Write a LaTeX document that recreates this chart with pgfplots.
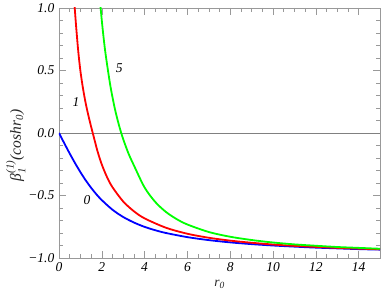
\documentclass[border=0pt]{standalone}
\usepackage{fontspec}
\setmainfont{Liberation Serif}
\usepackage{amsmath}
\usepackage{pgfplots}
\pgfplotsset{compat=1.18}
\begin{document}
\fontsize{13.5}{16}\selectfont
\begin{tikzpicture}
\path[use as bounding box] (-59pt,-42pt) rectangle (323pt,258pt);
\begin{axis}[
  scale only axis, width=321pt, height=250pt,
  at={(0,0)}, anchor=south west,
  xmin=0, xmax=15, ymin=-1, ymax=1,
  xtick={0,2,...,14}, ytick={-1,-0.5,0,0.5,1},
  xticklabels={\textit{0},\textit{2},\textit{4},\textit{6},\textit{8},\textit{10},\textit{12},\textit{14}},
  yticklabels={\textit{−1.0},\textit{−0.5},\textit{0.0},\textit{0.5},\textit{1.0}},
  minor x tick num=3, minor y tick num=4,
  tick align=inside, major tick length=7pt, minor tick length=4pt,
  axis line style={gray!80}, every tick/.style={gray!80, line width=0.5pt},
  xlabel={\itshape r$_{\text{\itshape 0}}$},
  ylabel={\fontsize{15.5}{17}\selectfont\itshape β$^{\text{\itshape (1)}}_{\text{\itshape 1}}$(coshr$_{\text{\itshape 0}}$)},
  label style={gray!30!black},
  xlabel style={yshift=1pt},
  ylabel style={at={(axis description cs:-0.135,0.45)}, anchor=center},
  clip=true,
]
\addplot[gray, line width=0.6pt, forget plot] coordinates {(0,0) (15,0)};
\addplot[blue, line width=1.8pt, smooth] coordinates {
(0,0) (0.25,-0.083) (0.5,-0.164) (0.75,-0.241) (1,-0.313) (1.25,-0.379)
(1.5,-0.438) (1.75,-0.491) (2,-0.537) (2.5,-0.614) (3,-0.672) (3.5,-0.716)
(4,-0.751) (4.5,-0.778) (5,-0.800) (6,-0.833) (7,-0.857) (8,-0.875)
(9,-0.889) (10,-0.900) (11,-0.909) (12,-0.917) (13,-0.923) (14,-0.929) (15,-0.933)};
\addplot[red, line width=1.8pt, smooth] coordinates {
(0.7,1.08) (0.8,0.853) (0.9,0.653) (1.0,0.497) (1.1,0.379) (1.2,0.280) (1.3,0.195)
(1.4,0.121) (1.5,0.051) (1.6,-0.015) (1.8,-0.146) (2.0,-0.252) (2.25,-0.355)
(2.5,-0.434) (3.0,-0.548) (3.5,-0.626) (4,-0.683) (5,-0.758) (6,-0.806)
(7,-0.838) (8,-0.861) (9,-0.878) (10,-0.892) (11,-0.903) (12,-0.911)
(13,-0.919) (14,-0.925) (15,-0.930)};
\addplot[green, line width=1.8pt, smooth] coordinates {
(1.9,1.087) (2.0,0.900) (2.1,0.738) (2.2,0.603) (2.4,0.378) (2.6,0.202)
(2.8,0.064) (3.0,-0.049) (3.25,-0.165) (3.5,-0.259) (4,-0.436) (4.5,-0.552)
(5,-0.632) (5.5,-0.689) (6,-0.732) (7,-0.792) (8,-0.830) (9,-0.856)
(10,-0.876) (11,-0.891) (12,-0.902) (13,-0.912) (14,-0.919) (15,-0.926)};
\node[font=\itshape] at (axis cs:1.31,-0.54) {0};
\node[font=\itshape] at (axis cs:0.8,0.25) {1};
\node[font=\itshape] at (axis cs:2.82,0.52) {5};
\end{axis}
\end{tikzpicture}
\end{document}
